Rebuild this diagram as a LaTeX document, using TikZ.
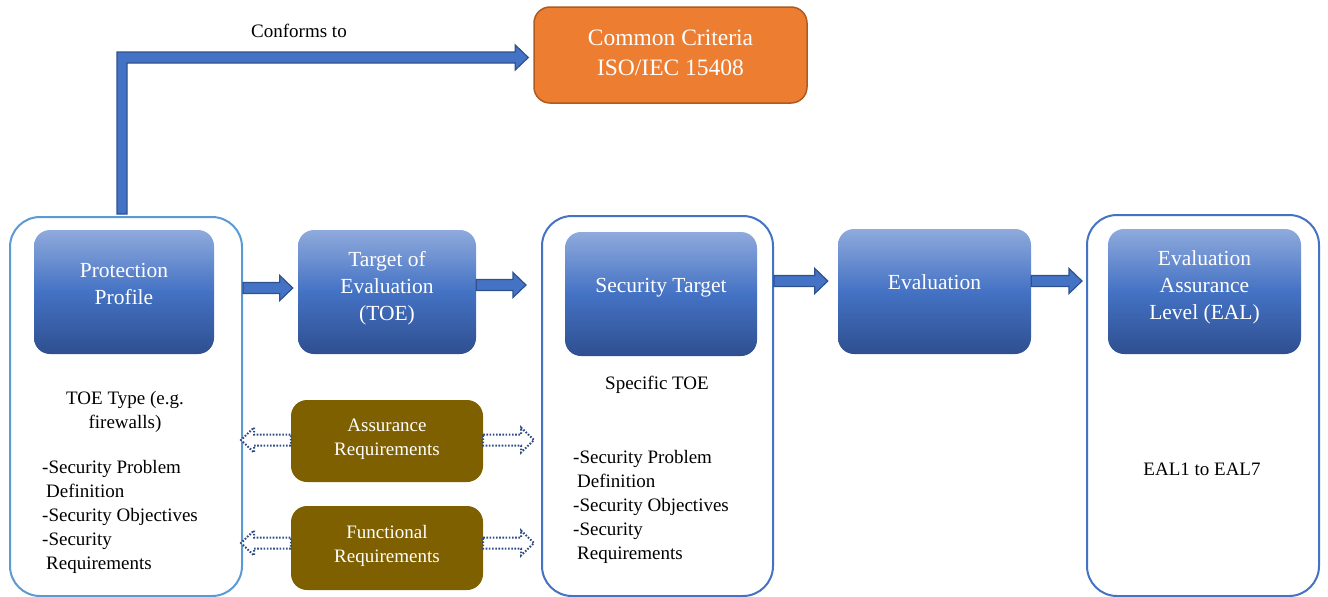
\documentclass[tikz,border=0pt]{standalone}
\usepackage{fontspec}
\setmainfont{Liberation Serif}
\usetikzlibrary{calc}
\definecolor{ccfill}{HTML}{ED7D31}
\definecolor{ccline}{HTML}{AE5A21}
\definecolor{gtop}{HTML}{8FAADC}
\definecolor{gmid}{HTML}{4472C4}
\definecolor{gbot}{HTML}{2F4F8F}
\definecolor{contA}{HTML}{5B9BD5}
\definecolor{contB}{HTML}{4472C4}
\definecolor{brown}{HTML}{7F6000}
\definecolor{arrfill}{HTML}{4472C4}
\definecolor{arrline}{HTML}{2F528F}
\definecolor{dotline}{HTML}{2F4A85}
\newcommand\boxtxt[2]{\raisebox{#1}[0pt][0pt]{\begin{tabular}{@{}c@{}}#2\end{tabular}}}
\newcommand\blockarrow[3][]{%
  \path (#2) coordinate (ba-a) ($(#3)!13pt!(#2)$) coordinate (ba-h);
  \draw[#1] ($(ba-a)!5.5pt!90:(#3)$) -- ($(ba-h)!5.5pt!90:(#3)$) -- ($(ba-h)!12.5pt!90:(#3)$)
    -- (#3) -- ($(ba-h)!12.5pt!-90:(#3)$) -- ($(ba-h)!5.5pt!-90:(#3)$) -- ($(ba-a)!5.5pt!-90:(#3)$) -- cycle;}
\begin{document}
\begin{tikzpicture}[x=1pt,y=-1pt,
  cont/.style={draw, line width=2pt, rounded corners=30pt, fill=white},
  gbox/.style={rounded corners=16pt, top color=gtop, bottom color=gbot, middle color=gmid,
     text=white, font=\fontsize{21.5}{27}\selectfont, inner sep=0pt},
  rbox/.style={rounded corners=16pt, fill=brown, text=white,
     font=\fontsize{19}{24}\selectfont, inner sep=0pt, minimum width=192pt},
  plain/.style={font=\fontsize{19}{24}\selectfont, inner sep=0pt},
  blk/.style={fill=arrfill, draw=arrline, line width=1.2pt, line join=miter},
  hol/.style={draw=dotline, fill=white, line width=2pt, dash pattern=on 1.6pt off 1.6pt},
]
\useasboundingbox (0,0) rectangle (1328,597);
% containers
\node[cont, draw=contA, minimum width=232pt, minimum height=379pt] (ppc) at (126,406.5) {};
\node[cont, draw=contB, minimum width=231pt, minimum height=380pt] (stc) at (657.5,406) {};
\node[cont, draw=contB, minimum width=232pt, minimum height=381pt] (ealc) at (1203,405.5) {};
% top box
\node[rounded corners=16pt, fill=ccfill, draw=ccline, line width=1.5pt, text=white,
  font=\fontsize{23.5}{30}\selectfont, minimum width=273pt, minimum height=96pt, inner sep=0pt]
  (cc) at (670.5,55) {\boxtxt{-5.5pt}{Common Criteria\\ISO/IEC 15408}};
\node[plain] (conf) at (299,31) {Conforms to};
% gradient boxes
\node[gbox, minimum width=180pt, minimum height=124pt] (pp) at (124,292) {\boxtxt{1pt}{Protection\\Profile}};
\node[gbox, minimum width=178pt, minimum height=124pt] (toe) at (387,292) {\boxtxt{-1.5pt}{Target of\\Evaluation\\(TOE)}};
\node[gbox, minimum width=192pt, minimum height=124pt] (st) at (661,294) {\boxtxt{1.5pt}{Security Target}};
\node[gbox, minimum width=193pt, minimum height=125pt] (ev) at (934.5,291.5) {\boxtxt{2pt}{Evaluation}};
\node[gbox, minimum width=193pt, minimum height=125pt] (eal) at (1204.5,291.5) {\boxtxt{-1pt}{Evaluation\\Assurance\\Level (EAL)}};
% brown boxes
\node[rbox, minimum height=82pt] (ar) at (387,441) {\boxtxt{-2pt}{Assurance\\Requirements}};
\node[rbox, minimum height=84pt] (fr) at (387,548) {\boxtxt{-2pt}{Functional\\Requirements}};
% texts
\node[plain, align=center] (toetype) at (125,412) {TOE Type (e.g.\\firewalls)};
\node[plain, align=left, anchor=west] (lista) at (42,517)
  {-Security Problem\\\hspace{4pt}Definition\\-Security Objectives\\-Security\\\hspace{4pt}Requirements};
\node[plain] (spec) at (657,385) {Specific TOE};
\node[plain, align=left, anchor=west] (listb) at (573,507)
  {-Security Problem\\\hspace{4pt}Definition\\-Security Objectives\\-Security\\\hspace{4pt}Requirements};
\node[plain] (eals) at (1202,469) {EAL1 to EAL7};
% conforms arrow
\draw[blk] let \p1=(ppc.north), \p2=(cc.west) in
  (\x1-9pt,\y1+2pt) -- (\x1-9pt,\y2+3pt) -- (\x2-18pt,\y2+3pt) -- (\x2-18pt,\y2+10pt)
  -- (\x2-5pt,\y2-2.5pt) -- (\x2-18pt,\y2-15pt) -- (\x2-18pt,\y2-8pt) -- (\x1+1pt,\y2-8pt)
  -- (\x1+1pt,\y1+2pt) -- cycle;
% flow arrows
\path (ppc.east |- toe.west) ++(0,-4) coordinate (a1s);
\path (toe.west) ++(-5,-4) coordinate (a1t);
\blockarrow[blk]{a1s}{a1t}
\path (toe.east) ++(0,-7) coordinate (a2s);
\path (stc.west |- toe.east) ++(-15,-7) coordinate (a2t);
\blockarrow[blk]{a2s}{a2t}
\path (stc.east |- ev.west) ++(0,-10.5) coordinate (a3s);
\path (ev.west) ++(-10,-10.5) coordinate (a3t);
\blockarrow[blk]{a3s}{a3t}
\path (ev.east) ++(0,-10.5) coordinate (a4s);
\path (ealc.west |- ev.east) ++(-4,-10.5) coordinate (a4t);
\blockarrow[blk]{a4s}{a4t}
% dotted hollow arrows
\path (ar.west) ++(0,-1) coordinate (d1s);
\path (ppc.east |- ar.west) ++(-2,-1) coordinate (d1t);
\blockarrow[hol]{d1s}{d1t}
\path (ar.east) ++(0,-1) coordinate (d2s);
\path (stc.west |- ar.east) ++(-7,-1) coordinate (d2t);
\blockarrow[hol]{d2s}{d2t}
\path (fr.west) ++(0,-5) coordinate (d3s);
\path (ppc.east |- fr.west) ++(-2,-5) coordinate (d3t);
\blockarrow[hol]{d3s}{d3t}
\path (fr.east) ++(0,-5) coordinate (d4s);
\path (stc.west |- fr.east) ++(-7,-5) coordinate (d4t);
\blockarrow[hol]{d4s}{d4t}
\end{tikzpicture}
\end{document}
